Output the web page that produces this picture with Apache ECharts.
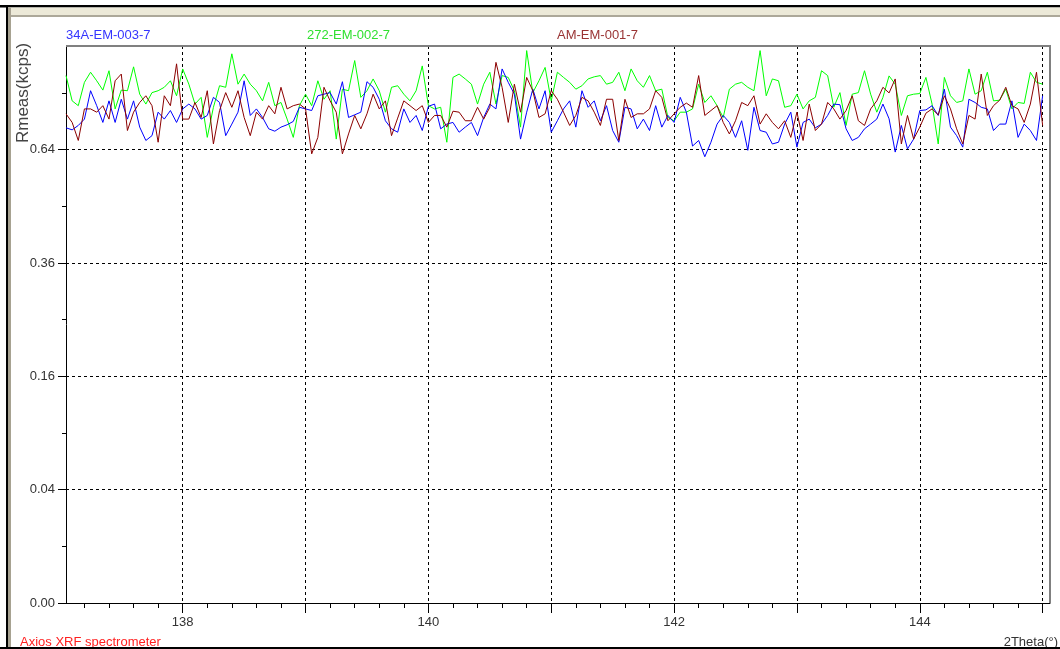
<!DOCTYPE html>
<html>
<head>
<meta charset="utf-8">
<script src="https://cdn.jsdelivr.net/npm/echarts@6/dist/echarts.min.js"></script>
<style>
html,body{margin:0;padding:0;background:#fff;}
#chart{width:1060px;height:649px;}
</style>
</head>
<body>
<div id="chart"></div>
<script>
// ---- data ----
const seriesNames = ['34A-EM-003-7', '272-EM-002-7', 'AM-EM-001-7'];
const thetaStart = 137.05;   // first scan position (2Theta, deg)
const thetaStep = 0.05;      // scan step (deg)
const xTickLabels = [138, 140, 142, 144];
const yTickLabels = [0.00, 0.04, 0.16, 0.36, 0.64];

// Rmeas (kcps)
const blue34A = [
  0.703,0.697,0.710,0.729,0.817,0.770,0.719,0.785,0.719,0.790,0.729,0.785,0.705,0.666,0.680,0.750,0.729,0.755,0.719,0.760,0.775,0.760,0.729,0.740,0.796,0.780,0.680,
  0.714,0.750,0.849,0.740,0.760,0.734,0.700,0.693,0.705,0.712,0.722,0.765,0.760,0.755,0.801,0.806,0.811,0.775,0.846,0.734,0.742,0.750,0.846,0.828,0.790,0.724,0.700,
  0.690,0.760,0.719,0.740,0.695,0.768,0.775,0.700,0.714,0.719,0.690,0.705,0.719,0.680,0.734,0.775,0.760,0.888,0.844,0.806,0.670,0.750,0.822,0.760,0.817,0.690,0.724,
  0.760,0.785,0.705,0.817,0.765,0.785,0.724,0.770,0.695,0.661,0.765,0.760,0.700,0.729,0.695,0.770,0.705,0.740,0.719,0.796,0.750,0.650,0.666,0.620,0.661,0.714,0.740,
  0.719,0.675,0.724,0.638,0.765,0.695,0.690,0.656,0.661,0.714,0.750,0.647,0.719,0.729,0.703,0.714,0.740,0.775,0.773,0.700,0.666,0.675,0.700,0.714,0.729,0.775,0.730,
  0.633,0.710,0.642,0.670,0.755,0.757,0.770,0.740,0.822,0.705,0.680,0.647,0.790,0.780,0.765,0.760,0.695,0.714,0.714,0.785,0.675,0.714,0.695,0.666,0.801
];
const green272 = [
  0.866,0.785,0.770,0.844,0.877,0.849,0.819,0.882,0.760,0.819,0.817,0.895,0.806,0.775,0.811,0.817,0.828,0.849,0.801,0.888,0.838,0.775,0.796,0.675,0.765,0.833,0.828,
  0.939,0.838,0.871,0.838,0.817,0.785,0.844,0.770,0.780,0.729,0.675,0.770,0.806,0.770,0.849,0.790,0.817,0.670,0.822,0.817,0.916,0.796,0.817,0.855,0.817,0.750,0.828,
  0.833,0.806,0.785,0.817,0.898,0.770,0.760,0.765,0.661,0.860,0.871,0.855,0.838,0.775,0.838,0.877,0.775,0.866,0.860,0.817,0.705,0.950,0.811,0.849,0.893,0.785,0.877,
  0.860,0.844,0.822,0.833,0.855,0.862,0.866,0.838,0.844,0.877,0.817,0.888,0.849,0.828,0.866,0.817,0.822,0.734,0.724,0.750,0.750,0.760,0.838,0.780,0.801,0.770,0.734,
  0.822,0.838,0.844,0.828,0.817,0.950,0.801,0.855,0.849,0.765,0.770,0.806,0.760,0.785,0.796,0.882,0.866,0.765,0.811,0.710,0.806,0.811,0.882,0.806,0.750,0.796,0.865,
  0.838,0.740,0.801,0.806,0.808,0.860,0.775,0.656,0.860,0.801,0.780,0.785,0.888,0.806,0.817,0.877,0.785,0.787,0.822,0.760,0.780,0.777,0.877,0.844,0.838
];
const redAM = [
  0.745,0.719,0.666,0.760,0.760,0.750,0.770,0.729,0.849,0.871,0.695,0.750,0.780,0.801,0.770,0.661,0.801,0.770,0.905,0.729,0.729,0.780,0.734,0.817,0.656,0.755,0.811,
  0.765,0.817,0.734,0.680,0.750,0.729,0.770,0.745,0.828,0.760,0.770,0.775,0.760,0.628,0.675,0.828,0.785,0.750,0.628,0.685,0.740,0.700,0.745,0.806,0.760,0.785,0.680,
  0.732,0.785,0.770,0.755,0.770,0.719,0.740,0.740,0.705,0.753,0.750,0.724,0.724,0.765,0.729,0.765,0.910,0.828,0.719,0.838,0.750,0.860,0.817,0.734,0.745,0.817,0.790,
  0.750,0.710,0.740,0.796,0.785,0.750,0.710,0.790,0.790,0.666,0.790,0.734,0.745,0.745,0.760,0.817,0.796,0.724,0.745,0.765,0.778,0.765,0.866,0.740,0.755,0.770,0.719,
  0.685,0.724,0.780,0.770,0.801,0.714,0.745,0.719,0.700,0.724,0.675,0.750,0.666,0.775,0.695,0.714,0.780,0.760,0.729,0.755,0.801,0.724,0.710,0.760,0.785,0.828,0.810,
  0.855,0.656,0.740,0.670,0.705,0.747,0.760,0.742,0.801,0.760,0.700,0.656,0.740,0.729,0.871,0.740,0.770,0.787,0.828,0.770,0.760,0.719,0.775,0.877,0.710
];

// ---- layout ----
const W = 1060, H = 649;
const PL = 66, PR = 1050, PT = 46, PB = 603;
const xMin = 137.05, xMax = 145.06;
const pxX = (PR - PL) / (xMax - xMin);
const S = 566.75;                       // px per unit of sqrt(value)
const yMaxSqrt = (PB - PT) / S;
const FONT = '"Liberation Sans", Arial, sans-serif';

function xGrid(a, b) {
  return { left: PL + (a - xMin) * pxX, right: W - (PL + (b - xMin) * pxX), top: PT, bottom: H - PB };
}
function yGrid(maxSqrt) {
  return { left: PL, right: W - PR, top: PB - maxSqrt * S, bottom: H - PB };
}
const toData = arr => arr.map((v, i) => [+(thetaStart + i * thetaStep).toFixed(2), Math.sqrt(v)]);
const dash = { color: '#000', type: [3, 3], width: 1 };

const chart = echarts.init(document.getElementById('chart'), null, { renderer: 'canvas' });
const hiddenAxis = (g) => ({ type: 'value', gridIndex: g, show: false });

const option = {
  animation: false,
  backgroundColor: '#fff',
  grid: [
    { left: PL, right: W - PR, top: PT, bottom: H - PB },
    xGrid(138, 145),
    xGrid(137.2, 145),
    yGrid(0.8),
    yGrid(0.9)
  ],
  xAxis: [
    { type: 'value', gridIndex: 0, min: xMin, max: xMax,
      axisLine: { show: true, lineStyle: { color: '#000', width: 1 } },
      axisTick: { show: false }, axisLabel: { show: false }, splitLine: { show: false } },
    { type: 'value', gridIndex: 1, min: 138, max: 145, interval: 1,
      axisLine: { show: false },
      axisTick: { show: true, length: 10, lineStyle: { color: '#000' } },
      axisLabel: { show: true, margin: 13, color: '#333', fontSize: 13, fontFamily: FONT,
        formatter: v => xTickLabels.includes(Math.round(v)) ? String(Math.round(v)) : '' },
      splitLine: { show: true, lineStyle: dash } },
    { type: 'value', gridIndex: 2, min: 137.2, max: 145, interval: 0.2,
      axisLine: { show: false },
      axisTick: { show: true, length: 5, lineStyle: { color: '#000' } },
      axisLabel: { show: false }, splitLine: { show: false } },
    hiddenAxis(3),
    hiddenAxis(4)
  ],
  yAxis: [
    { type: 'value', gridIndex: 0, min: 0, max: yMaxSqrt,
      axisLine: { show: true, lineStyle: { color: '#000', width: 1 } },
      axisTick: { show: false }, axisLabel: { show: false }, splitLine: { show: false } },
    hiddenAxis(1),
    hiddenAxis(2),
    { type: 'value', gridIndex: 3, min: 0, max: 0.8, interval: 0.2,
      axisLine: { show: false },
      axisTick: { show: true, length: 8, lineStyle: { color: '#000' } },
      axisLabel: { show: true, margin: 11, color: '#333', fontSize: 13, fontFamily: FONT,
        formatter: v => {
          const t = yTickLabels.find(t => Math.abs(Math.sqrt(t) - v) < 1e-6);
          return t === undefined ? '' : t.toFixed(2);
        } },
      splitLine: { show: true, lineStyle: dash } },
    { type: 'value', gridIndex: 4, min: 0, max: 0.9, interval: 0.1,
      axisLine: { show: false },
      axisTick: { show: true, length: 4, lineStyle: { color: '#000' } },
      axisLabel: { show: false }, splitLine: { show: false } }
  ],
  series: [
    { name: seriesNames[0], type: 'line', xAxisIndex: 0, yAxisIndex: 0, data: toData(blue34A),
      showSymbol: false, symbol: 'none', lineStyle: { color: '#0000ff', width: 1 }, z: 3 },
    { name: seriesNames[1], type: 'line', xAxisIndex: 0, yAxisIndex: 0, data: toData(green272),
      showSymbol: false, symbol: 'none', lineStyle: { color: '#00ff00', width: 1 }, z: 2 },
    { name: seriesNames[2], type: 'line', xAxisIndex: 0, yAxisIndex: 0, data: toData(redAM),
      showSymbol: false, symbol: 'none', lineStyle: { color: '#8b0000', width: 1 }, z: 4 }
  ],
  graphic: [
    // window chrome
    { type: 'rect', shape: { x: 0, y: 5, width: W, height: 2.5 }, style: { fill: '#000' }, z: 100 },
    { type: 'rect', shape: { x: 8, y: 7.5, width: W - 8, height: 8 }, style: { fill: '#ece9d8' }, z: 100 },
    { type: 'rect', shape: { x: 8, y: 15, width: W - 8, height: 2 }, style: { fill: '#aca899' }, z: 100 },
    { type: 'rect', shape: { x: 6, y: 5, width: 2, height: H - 5 }, style: { fill: '#000' }, z: 100 },
    { type: 'rect', shape: { x: 8, y: 7.5, width: 3, height: H - 7.5 }, style: { fill: '#a7a291' }, z: 100 },
    // plot frame (top, right)
    { type: 'line', shape: { x1: PL, y1: PT, x2: PR + 1, y2: PT }, style: { stroke: '#808080', lineWidth: 2 }, z: 100 },
    { type: 'line', shape: { x1: PR, y1: PT, x2: PR, y2: PB }, style: { stroke: '#808080', lineWidth: 2 }, z: 100 },
    // legend texts
    { type: 'text', x: 66, y: 35, z: 100, style: { text: seriesNames[0], fill: '#3535ff', font: '13px ' + FONT, textVerticalAlign: 'middle' } },
    { type: 'text', x: 307, y: 35, z: 100, style: { text: seriesNames[1], fill: '#30e030', font: '13px ' + FONT, textVerticalAlign: 'middle' } },
    { type: 'text', x: 557, y: 35, z: 100, style: { text: seriesNames[2], fill: '#993333', font: '13px ' + FONT, textVerticalAlign: 'middle' } },
    // axis titles
    { type: 'text', x: 23, y: 93, rotation: Math.PI / 2, z: 100,
      style: { text: 'Rmeas(kcps)', fill: '#444', font: '17px ' + FONT, textAlign: 'center', textVerticalAlign: 'middle' } },
    { type: 'text', x: 1058, y: 642, z: 100,
      style: { text: '2Theta(°)', fill: '#333', font: '13px ' + FONT, textAlign: 'right', textVerticalAlign: 'middle' } },
    { type: 'text', x: 20, y: 642, z: 100,
      style: { text: 'Axios XRF spectrometer', fill: '#ff2020', font: '13px ' + FONT, textVerticalAlign: 'middle' } },
    { type: 'rect', shape: { x: 0, y: 647, width: W, height: 2 }, style: { fill: '#000' }, z: 101 }
  ]
};
chart.setOption(option);
</script>
</body>
</html>
